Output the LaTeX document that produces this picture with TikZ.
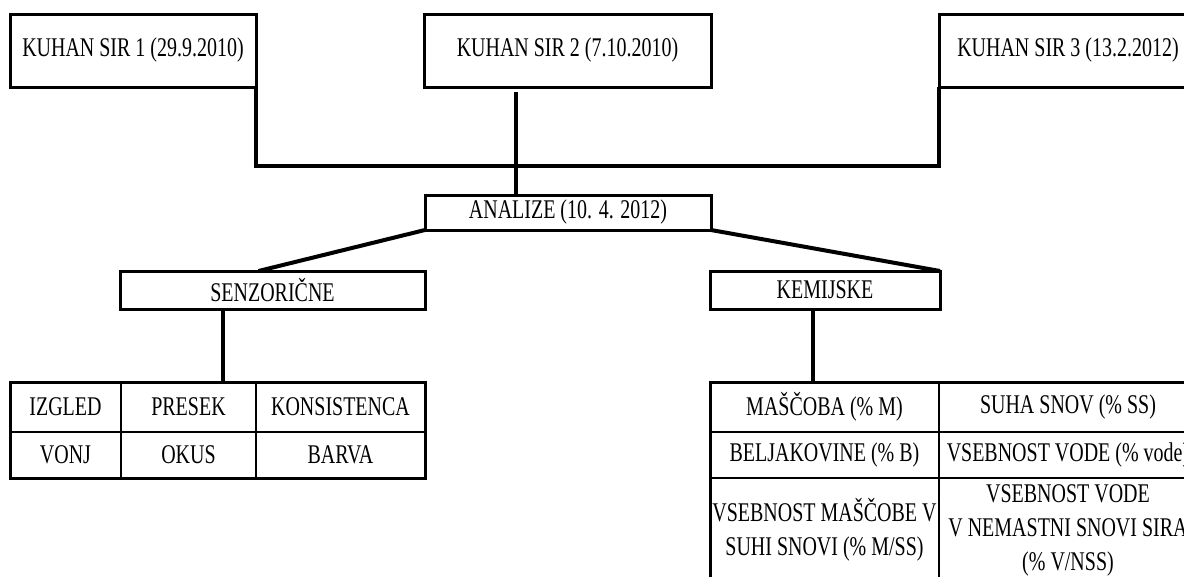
\documentclass[tikz,border=0pt]{standalone}
\usepackage{fontspec}
\setmainfont{Liberation Serif}[FakeStretch=0.74]
\usetikzlibrary{positioning}

\begin{document}
\begin{tikzpicture}[x=1pt,y=-1pt,
  font=\fontsize{27}{34}\selectfont,
  box/.style={draw, line width=3pt, inner sep=0pt, outer sep=0pt, align=center},
  cell/.style={draw, line width=1.6pt, inner sep=0pt, outer sep=0pt, anchor=north west, align=center},
  link/.style={line width=4pt},
  frame/.style={line width=3pt}]
\useasboundingbox (0,0) rectangle (1184,576);
\clip (0,0) rectangle (1184,576);

% samples
\node[box, minimum width=246pt, minimum height=73pt] (s1) at (133,50.5) {KUHAN SIR 1 (29.9.2010)};
\node[box, minimum width=287pt, minimum height=73pt] (s2) at (567.5,50.5) {KUHAN SIR 2 (7.10.2010)};
\node[box, minimum width=258pt, minimum height=73pt] (s3) at (1068,50.5) {KUHAN SIR 3 (13.2.2012)};
\node[box, minimum width=286pt, minimum height=35pt] (an) at (568,212.5) {ANALIZE (10. 4. 2012)};
\node[box, minimum width=305pt, minimum height=38pt] (sen) at (272.5,290) {SENZORIČNE};
\node[box, minimum width=230pt, minimum height=38pt] (kem) at (825,290) {KEMIJSKE};

% sensory table
\node[cell, minimum width=111pt, minimum height=50pt] (iz) at (10,382) {IZGLED};
\node[cell, minimum width=135pt, minimum height=50pt] (pr) at (iz.north east) {PRESEK};
\node[cell, minimum width=169pt, minimum height=50pt] (ko) at (pr.north east) {KONSISTENCA};
\node[cell, minimum width=111pt, minimum height=46pt] (vo) at (iz.south west) {VONJ};
\node[cell, minimum width=135pt, minimum height=46pt] (ok) at (vo.north east) {OKUS};
\node[cell, minimum width=169pt, minimum height=46pt] (ba) at (ok.north east) {BARVA};
\draw[frame] (iz.north west) rectangle (ba.south east);

% chemical table
\node[cell, minimum width=229pt, minimum height=50pt] (ma) at (710,382) {MAŠČOBA (\% M)};
\node[cell, minimum width=258pt, minimum height=50pt] (su) at (ma.north east) {SUHA SNOV (\% SS)};
\node[cell, minimum width=229pt, minimum height=46pt] (be) at (ma.south west) {BELJAKOVINE (\% B)};
\node[cell, minimum width=258pt, minimum height=46pt] (vv) at (be.north east) {VSEBNOST VODE (\% vode)};
\node[cell, minimum width=229pt, minimum height=104pt] (vm) at (be.south west) {VSEBNOST MAŠČOBE V\\SUHI SNOVI (\% M/SS)};
\node[cell, minimum width=258pt, minimum height=104pt] (vn) at (vm.north east) {VSEBNOST VODE\\V NEMASTNI SNOVI SIRA\\(\% V/NSS)};
\draw[frame] (ma.north west) rectangle (vn.south east);

% connectors
\coordinate (hub) at (516,166);
\draw[link] (s1.south east) |- (hub) -| (s3.south west);
\draw[link, shorten <=5pt] (hub |- s2.south) -- (hub |- an.north);
\draw[link] (an.south west) -- ([xshift=-14pt]sen.north);
\draw[link] (an.south east) -- (kem.north east);
\coordinate (sdrop) at ([xshift=-49.5pt]sen.south);
\coordinate (kdrop) at ([xshift=-12pt]kem.south);
\draw[link] (sdrop) -- (sdrop |- iz.north);
\draw[link] (kdrop) -- (kdrop |- ma.north);
\end{tikzpicture}
\end{document}
